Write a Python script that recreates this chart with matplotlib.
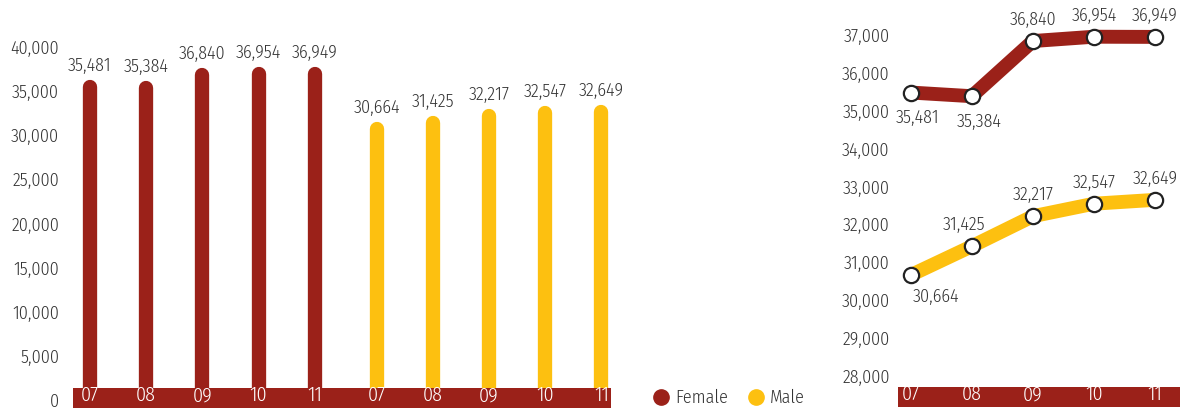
import matplotlib
matplotlib.use("Agg")
import matplotlib.pyplot as plt
from matplotlib.patches import Rectangle
from matplotlib.lines import Line2D

# ---- data ----
years = ["07", "08", "09", "10", "11"]
female = [35481, 35384, 36840, 36954, 36949]
male = [30664, 31425, 32217, 32547, 32649]
left_yticks = [0, 5000, 10000, 15000, 20000, 25000, 30000, 35000, 40000]
right_yticks = [28000, 29000, 30000, 31000, 32000, 33000, 34000, 35000, 36000, 37000]

RED = "#9B2119"
YEL = "#FDC010"
TXT = "#333333"

plt.rcParams["font.family"] = ["Fira Sans Condensed", "Lato", "DejaVu Sans"]
plt.rcParams["font.stretch"] = "condensed"
plt.rcParams["font.weight"] = 300
FS = 13
BFS = 14.5

W, H = 1190, 408
fig = plt.figure(figsize=(W / 100, H / 100), dpi=100)

def fmt(v):
    return f"{v:,}"

# ---------- left bar chart ----------
axL = fig.add_axes([73 / W, 0, 538 / W, 368 / H])
axL.set_axisbelow(False)
axL.set_ylim(-906, 40793)
xf = [i for i in range(len(years))]
xm = [5.1 + i for i in range(len(years))]
axL.set_xlim(-0.30, 9.27)
vf = axL.vlines(xf, 0, female, colors=RED, linewidth=10.3, zorder=2)
vm = axL.vlines(xm, 0, male, colors=YEL, linewidth=10.3, zorder=2)
vf.set_capstyle("round")
vm.set_capstyle("round")
axL.add_patch(Rectangle((0, 0), 1, 20 / 368, transform=axL.transAxes,
                        facecolor=RED, edgecolor="none", zorder=2.2, clip_on=False))
for x, v in zip(xf + xm, female + male):
    axL.annotate(fmt(v), (x, v), xytext=(0, 9), textcoords="offset points",
                 ha="center", va="bottom", fontsize=FS, color=TXT)
axL.set_xticks(xf + xm)
axL.set_xticklabels(years + years)
axL.tick_params(axis="x", length=0, pad=-16, labelsize=BFS, labelcolor="white")
axL.set_yticks(left_yticks)
axL.set_yticklabels([fmt(t) for t in left_yticks])
axL.tick_params(axis="y", length=0, pad=10, labelsize=FS, labelcolor=TXT)
for s in axL.spines.values():
    s.set_visible(False)

# ---------- right line chart ----------
axR = fig.add_axes([898 / W, 1 / H, 282 / W, 407 / H])
axR.set_axisbelow(False)
axR.set_ylim(27182, 37923)
xr = list(range(len(years)))
axR.set_xlim(-0.21, 4.41)
axR.plot(xr, female, color=RED, linewidth=10, solid_capstyle="butt", zorder=2)
axR.plot(xr, male, color=YEL, linewidth=10, solid_capstyle="butt", zorder=2)
axR.plot(xr, female, linestyle="none", marker="o", markersize=11,
         markerfacecolor="white", markeredgecolor="#222222", markeredgewidth=1.6, zorder=3)
axR.plot(xr, male, linestyle="none", marker="o", markersize=11,
         markerfacecolor="white", markeredgecolor="#222222", markeredgewidth=1.6, zorder=3)
f_off = [(5, -12, "top"), (5, -12, "top"), (0, 9, "bottom"), (0, 9, "bottom"), (0, 9, "bottom")]
m_off = [(18, -9, "top"), (-6, 9, "bottom"), (0, 9, "bottom"), (0, 9, "bottom"), (0, 9, "bottom")]
for x, v, (dx, dy, va) in zip(xr, female, f_off):
    axR.annotate(fmt(v), (x, v), xytext=(dx, dy), textcoords="offset points",
                 ha="center", va=va, fontsize=FS, color=TXT)
for x, v, (dx, dy, va) in zip(xr, male, m_off):
    axR.annotate(fmt(v), (x, v), xytext=(dx, dy), textcoords="offset points",
                 ha="center", va=va, fontsize=FS, color=TXT)
axR.add_patch(Rectangle((0, 0), 1, 20 / 407, transform=axR.transAxes,
                        facecolor=RED, edgecolor="none", zorder=2.2, clip_on=False))
axR.set_xticks(xr)
axR.set_xticklabels(years)
axR.tick_params(axis="x", length=0, pad=-16, labelsize=BFS, labelcolor="white")
axR.set_yticks(right_yticks)
axR.set_yticklabels([fmt(t) for t in right_yticks])
axR.tick_params(axis="y", length=0, pad=6, labelsize=FS, labelcolor=TXT)
for s in axR.spines.values():
    s.set_visible(False)

# ---------- legend ----------
handles = [Line2D([], [], linestyle="none", marker="o", markersize=11,
                  markerfacecolor=RED, markeredgecolor=RED, label="Female"),
           Line2D([], [], linestyle="none", marker="o", markersize=11,
                  markerfacecolor=YEL, markeredgecolor=YEL, label="Male")]
fig.legend(handles=handles, loc="center left", bbox_to_anchor=(645 / W, 1 - 398 / H),
           ncol=2, frameon=False, fontsize=FS, handletextpad=0.3, columnspacing=1.0,
           handlelength=1.0, borderaxespad=0, labelcolor=TXT)

fig.savefig("out.png", dpi=100)
